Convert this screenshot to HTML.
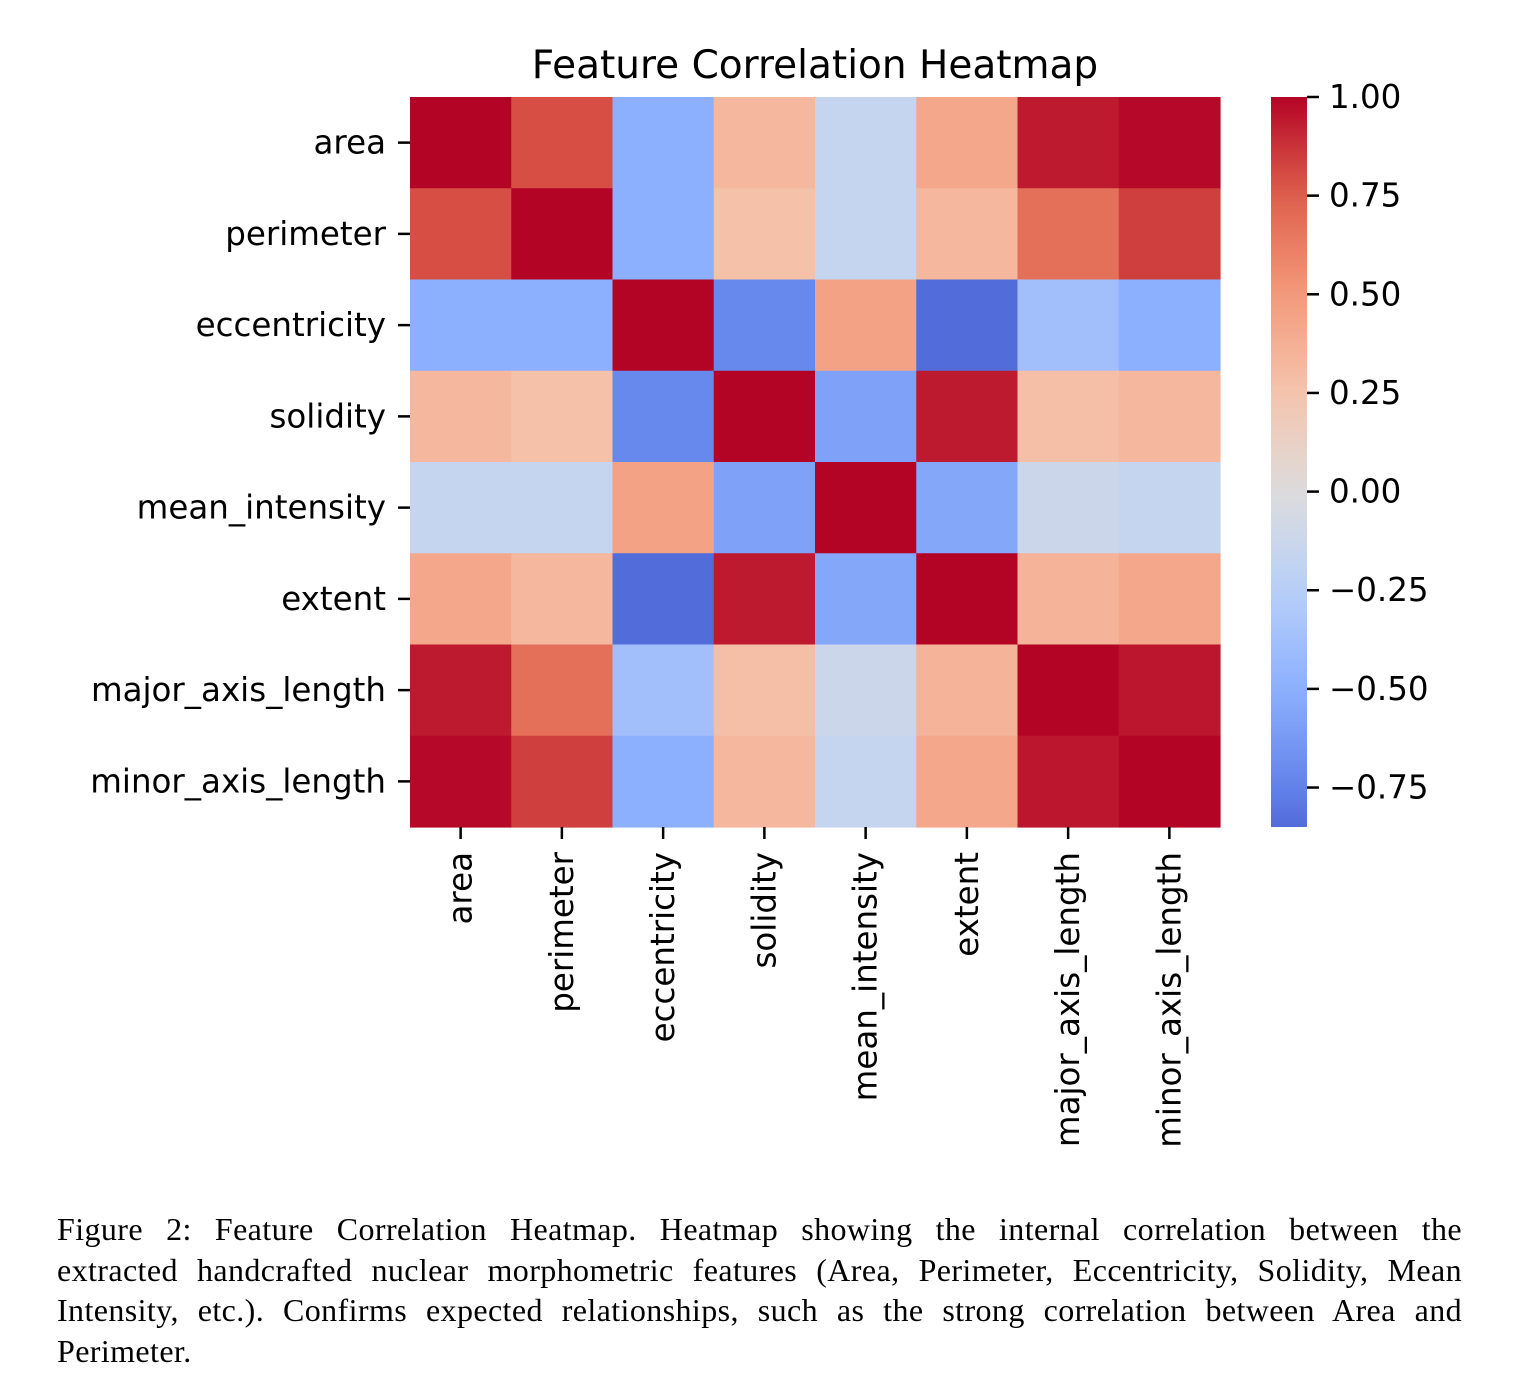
<!DOCTYPE html>
<html><head><meta charset="utf-8">
<style>
body{margin:0;background:#fff;}
#wrap{position:relative;width:1520px;height:1399px;overflow:hidden;background:#fff;}
#caption{position:absolute;left:57px;top:1209px;width:1405px;font-family:"Liberation Serif",serif;font-size:32px;line-height:40.7px;color:#000;letter-spacing:0.4px;}
#caption .ln{text-align:justify;text-align-last:justify;white-space:nowrap;}
#caption .last{text-align:left;text-align-last:left;}
</style></head>
<body>
<div id="wrap">
<svg id="chart" width="1520" height="1190" style="position:absolute;left:0;top:0">
<defs><linearGradient id="cbgrad" x1="0" y1="1" x2="0" y2="0"></linearGradient></defs>
</svg>
<div id="caption">
<div class="ln" style="white-space:normal">Figure 2: Feature Correlation Heatmap. Heatmap showing the internal correlation between the</div>
<div class="ln" style="white-space:normal">extracted handcrafted nuclear morphometric features (Area, Perimeter, Eccentricity, Solidity, Mean</div>
<div class="ln" style="white-space:normal">Intensity, etc.). Confirms expected relationships, such as the strong correlation between Area and</div>
<div class="ln last">Perimeter.</div>
</div>
</div>
<script>
const features = ["area","perimeter","eccentricity","solidity","mean_intensity","extent","major_axis_length","minor_axis_length"];
const row_area = [1.00,0.80,-0.50,0.32,-0.16,0.42,0.94,0.99];
const row_perimeter = [0.80,1.00,-0.50,0.27,-0.16,0.33,0.68,0.84];
const row_eccentricity = [-0.50,-0.50,1.00,-0.72,0.45,-0.85,-0.38,-0.50];
const row_solidity = [0.32,0.27,-0.72,1.00,-0.58,0.94,0.28,0.32];
const row_mean_intensity = [-0.16,-0.16,0.45,-0.58,1.00,-0.55,-0.12,-0.16];
const row_extent = [0.42,0.33,-0.85,0.94,-0.55,1.00,0.35,0.42];
const row_major = [0.94,0.68,-0.38,0.28,-0.12,0.35,1.00,0.95];
const row_minor = [0.99,0.84,-0.50,0.32,-0.16,0.42,0.95,1.00];
const matrix = [row_area,row_perimeter,row_eccentricity,row_solidity,row_mean_intensity,row_extent,row_major,row_minor];
const cbTicks = [1.00,0.75,0.50,0.25,0.00,-0.25,-0.50,-0.75];
const cbTickLabels = ["1.00","0.75","0.50","0.25","0.00","\u22120.25","\u22120.50","\u22120.75"];
const titleText = "Feature Correlation Heatmap";

const NS="http://www.w3.org/2000/svg";
const svg=document.getElementById('chart');
function mk(t,a,p){const e=document.createElementNS(NS,t);for(const k in a)e.setAttribute(k,a[k]);(p||svg).appendChild(e);return e;}
const dmin=Math.min(...matrix.flat()), dmax=Math.max(...matrix.flat());
const nmin=-1, nmax=1;
const cm=[[0,59,76,192],[0.125,98,130,234],[0.25,141,176,254],[0.375,184,208,249],[0.5,221,220,220],[0.625,245,196,173],[0.75,244,154,123],[0.875,222,96,76],[1,180,4,38]];
function cmap(v){let t=(v-nmin)/(nmax-nmin);t=Math.max(0,Math.min(1,t));for(let i=1;i<cm.length;i++){if(t<=cm[i][0]){const a=cm[i-1],b=cm[i],f=(t-a[0])/(b[0]-a[0]);return `rgb(${[1,2,3].map(j=>Math.round(a[j]+(b[j]-a[j])*f)).join(',')})`;}}return 'rgb(180,4,38)';}
const X0=410,X1=1220,Y0=97,Y1=827;
const n=features.length,cw=(X1-X0)/n,ch=(Y1-Y0)/n;
const xs=i=>X0+i*cw, ys=i=>Y0+i*ch;
const font='"DejaVu Sans","Liberation Sans",sans-serif';
const FS=32.5;
const title=mk('text',{x:815,y:78,'text-anchor':'middle','font-family':font,'font-size':39,fill:'#000'});
title.textContent=titleText;


matrix.forEach((row,r)=>row.forEach((v,c)=>{
  const rc=mk('rect',{x:xs(c),y:ys(r),width:cw+0.6,height:ch+0.6,fill:cmap(v)});
  
  
}));
features.forEach((f,i)=>{
  const cy=ys(i)+ch/2;
  const tk=mk('line',{x1:398,y1:cy,x2:410,y2:cy,stroke:'#000','stroke-width':2.5});
  
  
  const t=mk('text',{x:386,y:cy+11,'text-anchor':'end','font-family':font,'font-size':FS,fill:'#000'});
  t.textContent=f;
  
  
  const cx=xs(i)+cw/2;
  const tx=mk('line',{x1:cx,y1:827,x2:cx,y2:839,stroke:'#000','stroke-width':2.5});
  
  
  const l=mk('text',{x:0,y:0,'text-anchor':'end','font-family':font,'font-size':FS,fill:'#000',transform:`translate(${cx+11},852) rotate(-90)`});
  l.textContent=f;
  
  
});
const grad=document.getElementById('cbgrad');
for(let i=0;i<=20;i++){const v=dmin+(dmax-dmin)*i/20;mk('stop',{offset:i/20,'stop-color':cmap(v)},grad);}
const CB0=1271,CB1=1307;
const cb=mk('rect',{x:CB0,y:Y0,width:CB1-CB0,height:Y1-Y0,fill:'url(#cbgrad)'});


const cby=v=>Y1-(v-dmin)/(dmax-dmin)*(Y1-Y0);
cbTicks.forEach((v,i)=>{
  const y=cby(v);
  const tk=mk('line',{x1:CB1,y1:y,x2:CB1+12,y2:y,stroke:'#000','stroke-width':2.5});
  
  
  const t=mk('text',{x:1329,y:y+11,'font-family':font,'font-size':FS,fill:'#000'});
  t.textContent=cbTickLabels[i];
  
  
});
</script>
</body></html>
